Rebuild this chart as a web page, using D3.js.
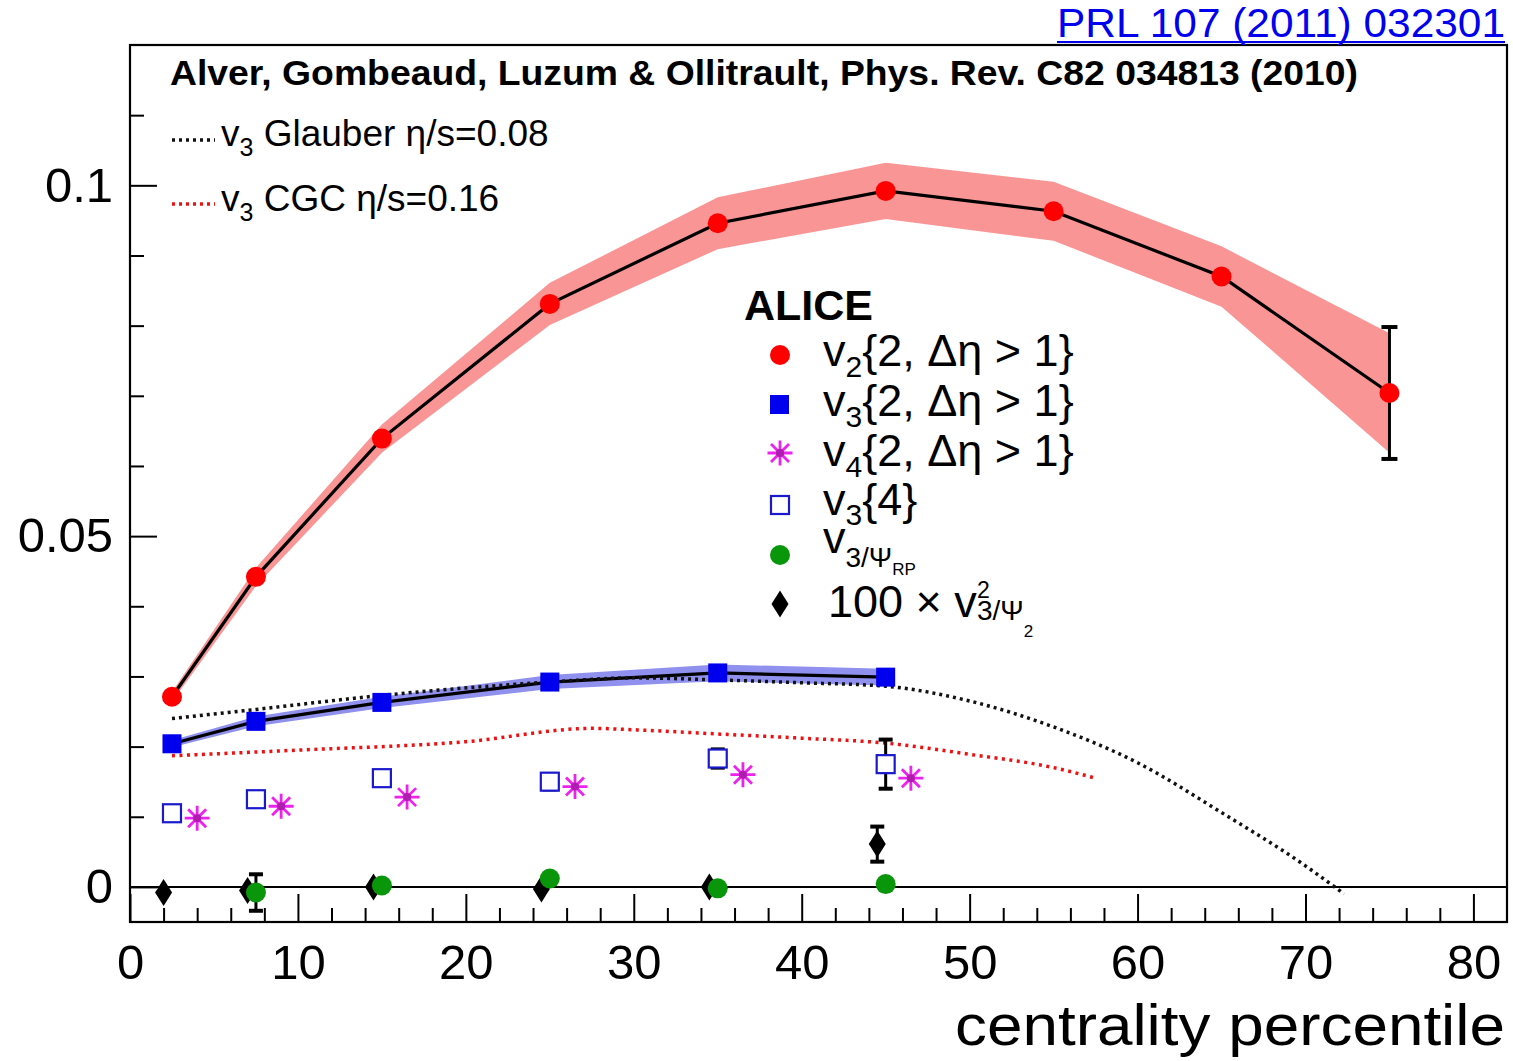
<!DOCTYPE html>
<html>
<head>
<meta charset="utf-8">
<script src="https://cdn.jsdelivr.net/npm/d3@7/dist/d3.min.js"></script>
<style>
  html, body { margin: 0; padding: 0; background: #fff; }
  svg { display: block; font-family: "Liberation Sans", Arial, Helvetica, sans-serif; }
</style>
</head>
<body>
<svg id="chart" width="1513" height="1061"></svg>
<script>
// ---- data -------------------------------------------------------------
// v2{2, |Δη|>1}
const v2Cent = [2.5, 7.5, 15, 25, 35, 45, 55, 65, 75];
const v2Val  = [0.0271, 0.0442, 0.0639, 0.0831, 0.0946, 0.0992, 0.0963, 0.0870, 0.0704];
const v2Sys  = [0.0007, 0.0013, 0.0020, 0.0030, 0.0037, 0.0040, 0.0042, 0.0043, 0.0085];
const v2Stat = [0, 0, 0, 0, 0, 0, 0, 0, 0.0094];

// v3{2, |Δη|>1}
const v3Cent = [2.5, 7.5, 15, 25, 35, 45];
const v3Val  = [0.0204, 0.0236, 0.0263, 0.0292, 0.0305, 0.0299];
const v3Sys  = [0.0005, 0.0007, 0.0008, 0.0010, 0.0012, 0.0012];

// v4{2, |Δη|>1}
const v4Cent = [4, 9, 16.5, 26.5, 36.5, 46.5];
const v4Val  = [0.0098, 0.0115, 0.0128, 0.0143, 0.0160, 0.0155];

// v3{4}
const v34Cent = [2.5, 7.5, 15, 25, 35, 45];
const v34Val  = [0.0105, 0.0125, 0.0155, 0.0150, 0.0183, 0.0175];
const v34Err  = [0, 0, 0, 0.0011, 0.0013, 0.0035];

// v3 relative to the reaction plane
const v3RPCent = [7.5, 15, 25, 35, 45];
const v3RPVal  = [-0.0008, 0.0002, 0.0012, -0.0002, 0.0004];
const v3RPErr  = [0.0026, 0, 0, 0, 0];

// 100 x v3^2 relative to Psi_2
const v3P2Cent = [2, 7, 14.5, 24.5, 34.5, 44.5];
const v3P2Val  = [-0.0008, -0.0005, 0.0000, -0.0003, 0.0000, 0.0061];
const v3P2Err  = [0, 0, 0, 0, 0, 0.0025];

// hydro predictions
const glauberCent = [2.5, 7.5, 15, 25, 30, 35, 40, 45, 50, 55, 60, 65, 70, 72.3];
const glauberVal  = [0.0240, 0.0253, 0.0273, 0.0292, 0.0298, 0.0295, 0.0291, 0.0286, 0.0265, 0.0228, 0.0177, 0.0106, 0.0030, -0.0010];
const cgcCent = [2.5, 10, 20, 27.5, 30, 35, 40, 45, 50, 55, 57.5];
const cgcVal  = [0.0187, 0.0195, 0.0207, 0.0226, 0.0224, 0.0218, 0.0212, 0.0205, 0.0189, 0.0170, 0.0155];

// axes
const xMajorTicks = [0, 10, 20, 30, 40, 50, 60, 70, 80];
const xTickLabels = ["0", "10", "20", "30", "40", "50", "60", "70", "80"];
const yMajorTicks = [0, 0.05, 0.1];
const yTickLabels = ["0", "0.05", "0.1"];
const xTitle = "centrality percentile";

// ---- layout -----------------------------------------------------------
const svg = d3.select("#chart");
const L = 130, R = 1507, T = 45, B = 922;
const x = d3.scaleLinear().domain([0, 82]).range([L, R]);
const y = d3.scaleLinear().domain([-0.005, 0.12]).range([B, T]);

const zip = (c, v, e) => c.map((d, i) => ({ c: d, v: v[i], e: e ? e[i] : 0 }));

const plot = svg.append("g");

// systematic bands
const band = d3.area().x(d => x(d.c)).y0(d => y(d.v - d.e)).y1(d => y(d.v + d.e));
plot.append("path").datum(zip(v2Cent, v2Val, v2Sys)).attr("d", band).attr("fill", "#fa9595");
plot.append("path").datum(zip(v3Cent, v3Val, v3Sys)).attr("d", band).attr("fill", "#9090ee");

// zero line
plot.append("line").attr("x1", L).attr("x2", R).attr("y1", y(0)).attr("y2", y(0))
  .attr("stroke", "#000").attr("stroke-width", 2);

// connecting lines
const line = d3.line().x(d => x(d.c)).y(d => y(d.v));
plot.append("path").datum(zip(v2Cent, v2Val)).attr("d", line)
  .attr("fill", "none").attr("stroke", "#000").attr("stroke-width", 3.2);
plot.append("path").datum(zip(v3Cent, v3Val)).attr("d", line)
  .attr("fill", "none").attr("stroke", "#000").attr("stroke-width", 3.2);

// hydro curves (dotted)
const curve = d3.line().x(d => x(d.c)).y(d => y(d.v)).curve(d3.curveMonotoneX);
plot.append("path").datum(zip(glauberCent, glauberVal)).attr("d", curve)
  .attr("fill", "none").attr("stroke", "#111").attr("stroke-width", 3.5).attr("stroke-dasharray", "3,4");
plot.append("path").datum(zip(cgcCent, cgcVal)).attr("d", curve)
  .attr("fill", "none").attr("stroke", "#ee1111").attr("stroke-width", 3.5).attr("stroke-dasharray", "3,4.5");

// error bars with caps
function errorBars(data, cap) {
  const g = plot.append("g").attr("stroke", "#000").attr("stroke-width", 3);
  data.filter(d => d.e > 0).forEach(d => {
    const cx = x(d.c);
    g.append("line").attr("x1", cx).attr("x2", cx).attr("y1", y(d.v - d.e)).attr("y2", y(d.v + d.e));
    [d.v - d.e, d.v + d.e].forEach(v => g.append("line")
      .attr("x1", cx - cap).attr("x2", cx + cap).attr("y1", y(v)).attr("y2", y(v)).attr("stroke-width", 4));
  });
}

// marker shapes
const asteriskPath = s => {
  const k = s * 0.72;
  return `M${-s},0L${s},0M0,${-s}L0,${s}M${-k},${-k}L${k},${k}M${-k},${k}L${k},${-k}`;
};
const diamondPath = (w, h) => `M0,${-h}L${w},0L0,${h}L${-w},0Z`;

function circles(data, color, r) {
  plot.append("g").selectAll("circle").data(data).join("circle")
    .attr("cx", d => x(d.c)).attr("cy", d => y(d.v)).attr("r", r).attr("fill", color);
}
function squares(data, fill, stroke, s) {
  plot.append("g").selectAll("rect").data(data).join("rect")
    .attr("x", d => x(d.c) - s / 2).attr("y", d => y(d.v) - s / 2)
    .attr("width", s).attr("height", s)
    .attr("fill", fill).attr("stroke", stroke).attr("stroke-width", stroke === "none" ? 0 : 2.2);
}
function shapes(data, dpath, fill, stroke, sw) {
  plot.append("g").selectAll("path").data(data).join("path")
    .attr("transform", d => `translate(${x(d.c)},${y(d.v)})`)
    .attr("d", dpath).attr("fill", fill).attr("stroke", stroke).attr("stroke-width", sw);
}
function asterisks(g, data) {
  const m = g.append("g").selectAll("g").data(data).join("g")
    .attr("transform", d => `translate(${x(d.c)},${y(d.v)})`);
  m.append("path").attr("d", asteriskPath(12.5)).attr("fill", "none")
    .attr("stroke", "#ee22ee").attr("stroke-width", 2.8);
  m.append("circle").attr("r", 4).attr("fill", "#b01cb0");
}

const v2Data = zip(v2Cent, v2Val, v2Stat);
const v34Data = zip(v34Cent, v34Val, v34Err);
const rpData = zip(v3RPCent, v3RPVal, v3RPErr);
const p2Data = zip(v3P2Cent, v3P2Val, v3P2Err);

errorBars(p2Data, 7);
shapes(p2Data, diamondPath(8.5, 13.5), "#000", "none", 0);
errorBars(rpData, 7);
circles(rpData, "#0a960a", 10);
errorBars(v34Data, 7);
squares(v34Data, "#fff", "#1a1acc", 18);
asterisks(plot, zip(v4Cent, v4Val));
squares(zip(v3Cent, v3Val), "#0000ee", "none", 19);
errorBars(v2Data, 8);
circles(v2Data, "#ff0000", 10);

// ---- frame & axes -----------------------------------------------------
const axisG = svg.append("g");
const xMinor = d3.range(0, 82, 2).filter(v => v % 10 !== 0);
axisG.append("g").attr("transform", `translate(0,${B})`)
  .call(d3.axisBottom(x).tickValues(xMinor).tickSize(-14).tickFormat(""));
axisG.append("g").attr("transform", `translate(0,${B})`)
  .call(d3.axisBottom(x).tickValues(xMajorTicks).tickSize(-28).tickPadding(22)
    .tickFormat((d, i) => xTickLabels[i]));
const yMinor = d3.range(0, 0.1151, 0.01).filter(v => Math.abs(v % 0.05) > 1e-6 && Math.abs(v % 0.05 - 0.05) > 1e-6);
axisG.append("g").attr("transform", `translate(${L},0)`)
  .call(d3.axisLeft(y).tickValues(yMinor).tickSize(-14).tickFormat(""));
axisG.append("g").attr("transform", `translate(${L},0)`)
  .call(d3.axisLeft(y).tickValues(yMajorTicks).tickSize(-27).tickPadding(17)
    .tickFormat((d, i) => yTickLabels[i]));
axisG.selectAll(".domain").remove();
axisG.selectAll(".tick line").attr("stroke", "#000").attr("stroke-width", 2);
axisG.selectAll(".tick text").attr("fill", "#000").attr("font-size", 49)
  .attr("font-family", "'Liberation Sans', Arial, sans-serif");

svg.append("rect").attr("x", L).attr("y", T).attr("width", R - L).attr("height", B - T)
  .attr("fill", "none").attr("stroke", "#000").attr("stroke-width", 2.2);

svg.append("text").attr("x", 1505).attr("y", 1045).attr("text-anchor", "end")
  .attr("font-size", 58).attr("textLength", 550).attr("lengthAdjust", "spacingAndGlyphs")
  .text(xTitle);

// ---- annotations ------------------------------------------------------
// one text element per label; parts carry size and offset from the base line.
// A part flagged "stack" (superscript) lets the next part start at its own x.
function rich(x0, y0, parts, fontSize) {
  const t = svg.append("text").attr("x", x0).attr("y", y0).attr("font-size", fontSize);
  let off = 0, stackX = null;
  parts.forEach(p => {
    const target = p.dy || 0;
    const s = t.append("tspan").attr("font-size", p.size).attr("dy", target - off).text(p.t);
    if (stackX !== null) s.attr("x", stackX);
    off = target;
    stackX = p.stack ? s.node().getStartPositionOfChar(0).x : null;
  });
  return t;
}

// reference link
svg.append("text").attr("x", 1505).attr("y", 37).attr("text-anchor", "end")
  .attr("font-size", 41).attr("fill", "#0000ee").attr("textLength", 448)
  .attr("lengthAdjust", "spacingAndGlyphs").text("PRL 107 (2011) 032301");
svg.append("line").attr("x1", 1057).attr("x2", 1505).attr("y1", 42).attr("y2", 42)
  .attr("stroke", "#0000ee").attr("stroke-width", 2);

svg.append("text").attr("x", 170).attr("y", 85).attr("font-size", 35).attr("font-weight", "bold")
  .attr("textLength", 1188).attr("lengthAdjust", "spacingAndGlyphs")
  .text("Alver, Gombeaud, Luzum & Ollitrault, Phys. Rev. C82 034813 (2010)");

// hydro legend
svg.append("line").attr("x1", 172).attr("x2", 215).attr("y1", 140).attr("y2", 140)
  .attr("stroke", "#111").attr("stroke-width", 3.5).attr("stroke-dasharray", "3,4");
rich(221, 146, [{ t: "v", size: 37 }, { t: "3", size: 25, dy: 10 }, { t: " Glauber η/s=0.08", size: 37 }], 37);
svg.append("line").attr("x1", 172).attr("x2", 215).attr("y1", 204).attr("y2", 204)
  .attr("stroke", "#ee1111").attr("stroke-width", 3.5).attr("stroke-dasharray", "3,4");
rich(221, 211, [{ t: "v", size: 37 }, { t: "3", size: 25, dy: 10 }, { t: " CGC η/s=0.16", size: 37 }], 37);

// ALICE legend
svg.append("text").attr("x", 744).attr("y", 320).attr("font-size", 43).attr("font-weight", "bold").text("ALICE");
const lx = 780;
const leg = svg.append("g");
leg.append("circle").attr("cx", lx).attr("cy", 355).attr("r", 10).attr("fill", "#ff0000");
leg.append("rect").attr("x", lx - 10).attr("y", 395).attr("width", 19).attr("height", 19).attr("fill", "#0000ee");
asterisks(leg, [{ c: x.invert(lx), v: y.invert(453) }]);
leg.append("rect").attr("x", lx - 9).attr("y", 496).attr("width", 18).attr("height", 18)
  .attr("fill", "#fff").attr("stroke", "#1a1acc").attr("stroke-width", 2.2);
leg.append("circle").attr("cx", lx).attr("cy", 555).attr("r", 10).attr("fill", "#0a960a");
leg.append("path").attr("transform", `translate(${lx},604)`).attr("d", diamondPath(8.5, 13.5)).attr("fill", "#000");

const tx = 823;
rich(tx, 366, [{ t: "v", size: 45 }, { t: "2", size: 30, dy: 11 }, { t: "{2, Δη > 1}", size: 45 }], 45);
rich(tx, 416, [{ t: "v", size: 45 }, { t: "3", size: 30, dy: 11 }, { t: "{2, Δη > 1}", size: 45 }], 45);
rich(tx, 466, [{ t: "v", size: 45 }, { t: "4", size: 30, dy: 11 }, { t: "{2, Δη > 1}", size: 45 }], 45);
rich(tx, 515, [{ t: "v", size: 45 }, { t: "3", size: 30, dy: 10 }, { t: "{4}", size: 45 }], 45);
rich(tx, 553, [{ t: "v", size: 45 }, { t: "3/Ψ", size: 28, dy: 14 }, { t: "RP", size: 17, dy: 22 }], 45);
rich(828, 617, [{ t: "100 × v", size: 45 }, { t: "2", size: 23, dy: -19, stack: true },
  { t: "3/Ψ", size: 28, dy: 3 }, { t: "2", size: 17, dy: 20 }], 45);
</script>
</body>
</html>
